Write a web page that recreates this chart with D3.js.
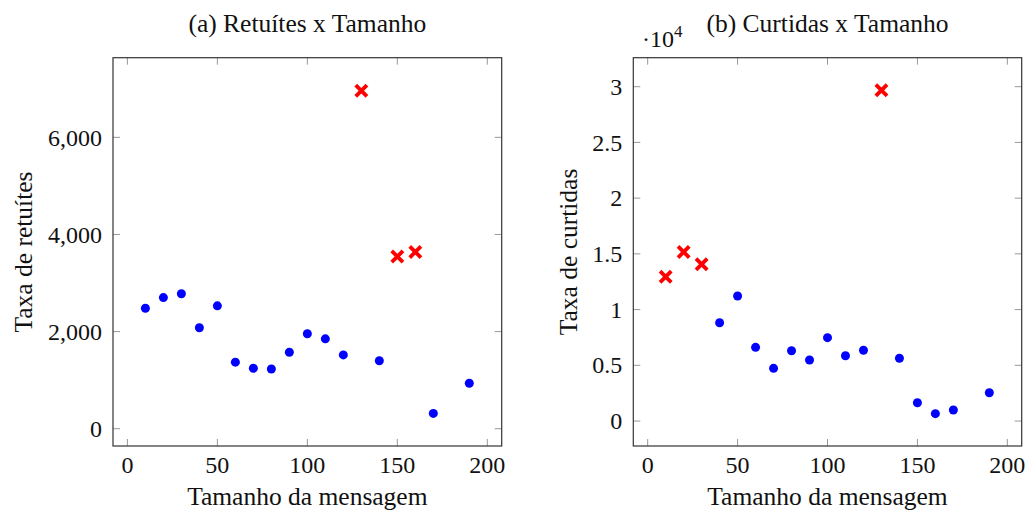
<!DOCTYPE html>
<meta charset="utf-8">
<style>
body { margin: 0; background: #fff; }
text { font-family: "Liberation Serif", "Times New Roman", serif; fill: #111; }
</style>
<body>
<script src="https://d3js.org/d3.v7.min.js"></script>
<script>

// (a) retuites x tamanho
var retX = [10, 20, 30, 40, 50, 60, 70, 80, 90, 100, 110, 120, 140, 170, 190];
var retY = [2480, 2700, 2780, 2080, 2530, 1370, 1245, 1230, 1575, 1955, 1850, 1520, 1400, 315, 935];
var retOutX = [130, 150, 160];
var retOutY = [6960, 3545, 3640];
var retTicks = [0, 2000, 4000, 6000];

// (b) curtidas x tamanho
var curX = [40, 50, 60, 70, 80, 90, 100, 110, 120, 140, 150, 160, 170, 190];
var curY = [8820, 11220, 6610, 4730, 6310, 5480, 7480, 5860, 6350, 5630, 1640, 660, 990, 2540];
var curOutX = [10, 20, 30, 130];
var curOutY = [12950, 15170, 14070, 29680];
var curTicks = [0, 5000, 10000, 15000, 20000, 25000, 30000];

var xTicks = [0, 50, 100, 150, 200];

var svg = d3.select("body").append("svg")
    .attr("width", 1026)
    .attr("height", 510);

function panel(opt) {
    var x = d3.scaleLinear().domain([-8, 208]).range([opt.left, opt.right]);
    var y = d3.scaleLinear().domain(opt.ydom).range([446, 57.7]);
    var g = svg.append("g");
    var tl = 7;

    // ticks, inside on all four sides
    xTicks.forEach(function(t) {
        g.append("line").attr("x1", x(t)).attr("x2", x(t)).attr("y1", 446).attr("y2", 446 - tl)
            .attr("stroke", "#999");
        g.append("line").attr("x1", x(t)).attr("x2", x(t)).attr("y1", 57.7).attr("y2", 57.7 + tl)
            .attr("stroke", "#999");
        g.append("text").attr("x", x(t)).attr("y", 473)
            .attr("text-anchor", "middle").attr("font-size", 24).text(t);
    });
    opt.yticks.forEach(function(t) {
        g.append("line").attr("x1", opt.left).attr("x2", opt.left + tl).attr("y1", y(t)).attr("y2", y(t))
            .attr("stroke", "#999");
        g.append("line").attr("x1", opt.right).attr("x2", opt.right - tl).attr("y1", y(t)).attr("y2", y(t))
            .attr("stroke", "#999");
        g.append("text").attr("x", opt.left - 11).attr("y", y(t)).attr("dy", "0.34em")
            .attr("text-anchor", "end").attr("font-size", 24).text(opt.fmt(t));
    });

    // frame
    g.append("rect")
        .attr("x", opt.left).attr("y", 57.7)
        .attr("width", opt.right - opt.left).attr("height", 446 - 57.7)
        .attr("fill", "none").attr("stroke", "#333").attr("stroke-width", 1.2);

    // points
    g.selectAll(".dot").data(d3.zip(opt.xs, opt.ys)).enter().append("circle")
        .attr("cx", function(d) { return x(d[0]); })
        .attr("cy", function(d) { return y(d[1]); })
        .attr("r", 4.5)
        .attr("fill", "#0000ff");

    var s = 5.6;
    g.selectAll(".cross").data(d3.zip(opt.ox, opt.oy)).enter().append("path")
        .attr("d", function(d) {
            var cx = x(d[0]), cy = y(d[1]);
            return "M" + (cx - s) + "," + (cy - s) + "L" + (cx + s) + "," + (cy + s) +
                   "M" + (cx - s) + "," + (cy + s) + "L" + (cx + s) + "," + (cy - s);
        })
        .attr("stroke", "#ff0000").attr("stroke-width", 3.8).attr("fill", "none");

    // labels
    var cx = (opt.left + opt.right) / 2;
    g.append("text").attr("x", cx).attr("y", 32).attr("text-anchor", "middle")
        .attr("font-size", 25.5).text(opt.title);
    g.append("text").attr("x", cx).attr("y", 505).attr("text-anchor", "middle")
        .attr("font-size", 25.5).text("Tamanho da mensagem");
    g.append("text").attr("transform", "translate(" + opt.ylx + ",252) rotate(-90)")
        .attr("text-anchor", "middle").attr("font-size", 25.5).text(opt.ylabel);

    return g;
}

panel({
    left: 113, right: 501.7, ydom: [-356, 7640],
    xs: retX, ys: retY, ox: retOutX, oy: retOutY,
    yticks: retTicks, fmt: d3.format(","),
    title: "(a) Retuítes x Tamanho", ylabel: "Taxa de retuítes", ylx: 31.5
});

var b = panel({
    left: 633.3, right: 1021.7, ydom: [-2240, 32600],
    xs: curX, ys: curY, ox: curOutX, oy: curOutY,
    yticks: curTicks, fmt: function(v) { return v / 10000; },
    title: "(b) Curtidas x Tamanho", ylabel: "Taxa de curtidas", ylx: 576.5
});

// scale factor label above the y axis
var m = b.append("text").attr("x", 642).attr("y", 47).attr("font-size", 24);
m.append("tspan").text("·10");
m.append("tspan").attr("dy", -10).attr("font-size", 17).text("4");

</script>
</body>
